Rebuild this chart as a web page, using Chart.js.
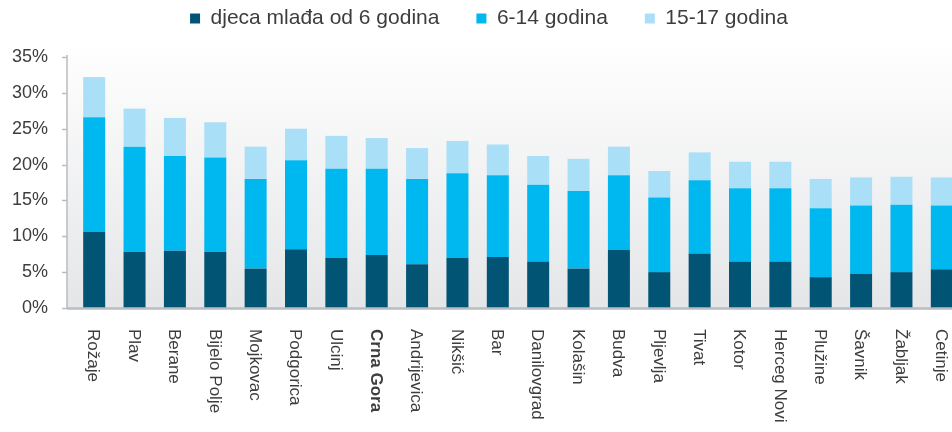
<!DOCTYPE html>
<html>
<head>
<meta charset="utf-8">
<script src="https://cdn.jsdelivr.net/npm/chart.js@4"></script>
<style>
    body{margin:0;background:#fff;}
    #wrap{width:952px;height:432px;overflow:hidden;}
</style>
</head>
<body>
<div id="wrap"><canvas id="mychart" width="962" height="432"></canvas></div>
<script>
var opstine = ['Rožaje','Plav','Berane','Bijelo Polje','Mojkovac','Podgorica','Ulcinj','Crna Gora','Andrijevica','Nikšić','Bar','Danilovgrad','Kolašin','Budva','Pljevlja','Tivat','Kotor','Herceg Novi','Plužine','Šavnik','Žabljak','Cetinje']
var do6   = [10.6,7.8,8.0,7.8,5.5,8.2,7.0,7.4,6.1,7.0,7.1,6.5,5.5,8.1,5.0,7.6,6.5,6.5,4.3,4.8,5.0,5.4]
var od6do14  = [16.0,14.7,13.2,13.2,12.5,12.4,12.4,12.0,11.9,11.8,11.4,10.7,10.8,10.4,10.4,10.2,10.2,10.2,9.6,9.5,9.4,8.9]
var od15do17 = [5.6,5.3,5.3,4.9,4.5,4.4,4.6,4.3,4.3,4.5,4.3,4.0,4.5,4.0,3.7,3.9,3.7,3.7,4.1,3.9,3.9,3.9]
var yTicks = [0,5,10,15,20,25,30,35]

var textColor = '#3d3d3d'
var axisColor = '#b9bcc1'
var axisX = 67

// background gradient + axis lines like the excel original
var excelLook = {
    id:'excelLook',
    afterLayout:function(chart){
        // pull the legend up and a bit right, keep plot top where it is
        var lg = chart.legend
        lg.top -= 29; lg.height += 29
        lg.left += 8; lg.right += 8
    },
    beforeDatasetsDraw:function(chart){
        var ctx = chart.ctx, a = chart.chartArea
        var g = ctx.createLinearGradient(0, 38, 0, a.bottom)
        g.addColorStop(0,'#ffffff')
        g.addColorStop(1,'#e5e6e8')
        ctx.save()
        ctx.fillStyle = g
        ctx.fillRect(axisX, 38, chart.width - axisX, a.bottom - 38)
        ctx.restore()
    },
    afterDatasetsDraw:function(chart){
        var ctx = chart.ctx, a = chart.chartArea, y = chart.scales.y
        ctx.save()
        ctx.strokeStyle = axisColor
        ctx.lineWidth = 1.5
        ctx.beginPath()
        ctx.moveTo(axisX, a.top - 2)
        ctx.lineTo(axisX, a.bottom)
        yTicks.forEach(function(t){
            var py = Math.round(y.getPixelForValue(t)) + 0.5
            ctx.moveTo(axisX - 5, py)
            ctx.lineTo(axisX, py)
        })
        ctx.stroke()
        ctx.lineWidth = 2.5
        ctx.beginPath()
        ctx.moveTo(axisX, a.bottom + 0.5)
        ctx.lineTo(chart.width, a.bottom + 0.5)
        ctx.stroke()

        // category labels, rotated clockwise (read top to bottom)
        var x = chart.scales.x
        ctx.fillStyle = textColor
        ctx.textAlign = 'left'
        ctx.textBaseline = 'middle'
        opstine.forEach(function(name, i){
            var px = x.getPixelForValue(i) - 1
            ctx.save()
            ctx.font = (name == 'Crna Gora' ? 'bold ' : '') + '17px "Liberation Sans"'
            ctx.translate(px, 329)
            ctx.rotate(Math.PI / 2)
            ctx.fillText(name, 0, 0)
            ctx.restore()
        })
        ctx.restore()
    }
}

var mychart = document.getElementById('mychart').getContext('2d')

var chart = new Chart(mychart,{
    type:'bar',
    data:{
        labels:opstine,
        datasets:[
            {
                label:'djeca mlađa od 6 godina',
                data:do6,
                backgroundColor:'#025474',
            },
            {
                label:'6-14 godina',
                data:od6do14,
                backgroundColor:'#00b8f0',
            },
            {
                label:'15-17 godina',
                data:od15do17,
                backgroundColor:'#aadff8',
            },
        ]
    },
    options:{
        responsive:false,
        animation:false,
        devicePixelRatio:1,
        layout:{padding:0},
        datasets:{bar:{categoryPercentage:1, barPercentage:0.545}},
        plugins:{
            legend:{
                position:'top',
                maxHeight:57,
                labels:{
                    boxWidth:10,
                    boxHeight:10,
                    padding:37,
                    color:textColor,
                    font:{family:'"Liberation Sans"', size:21}
                }
            },
            tooltip:{enabled:false}
        },
        scales:{
            x:{
                stacked:true,
                grid:{display:false},
                border:{display:false},
                ticks:{display:false},
                afterFit:function(s){ s.height = 124 }
            },
            y:{
                stacked:true,
                min:0,
                max:35,
                grid:{display:false},
                border:{display:false},
                afterFit:function(s){ s.width = 74 },
                afterBuildTicks:function(s){
                    s.ticks = yTicks.map(function(v){ return {value:v} })
                },
                ticks:{
                    padding:18,
                    color:textColor,
                    font:{family:'"Liberation Sans"', size:18},
                    callback:function(v){ return v + '%' }
                }
            }
        }
    },
    plugins:[excelLook]
})
</script>
</body>
</html>
